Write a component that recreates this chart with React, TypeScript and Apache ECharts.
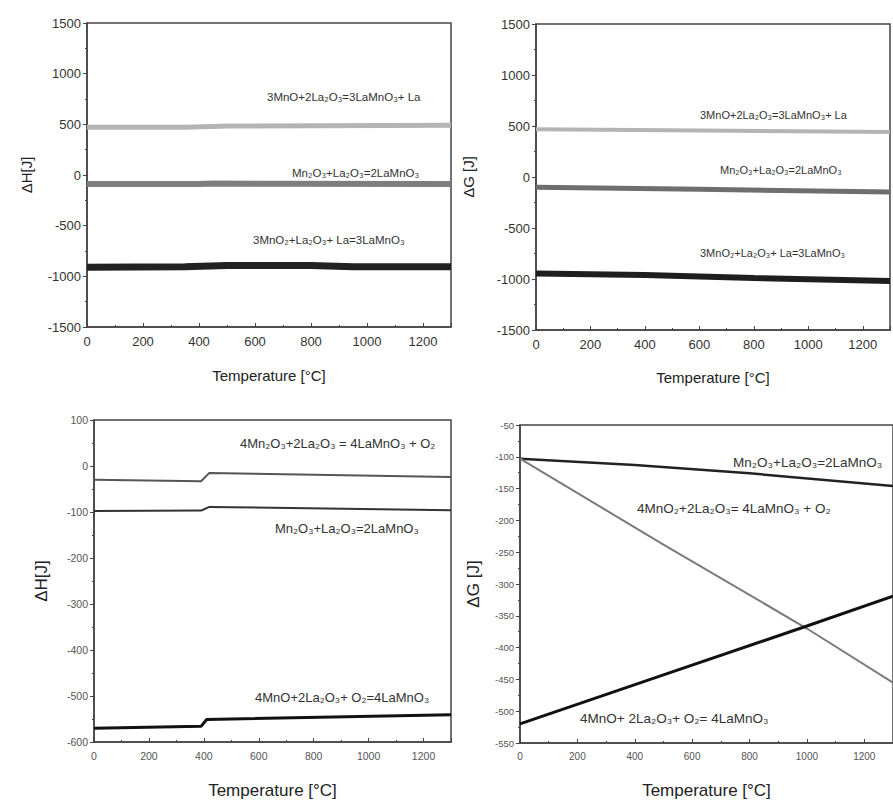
import React, { useEffect, useRef } from "react";
import * as echarts from "echarts";

// ---------- data (Temperature [°C], value [J]) ----------
// Top-left: ΔH
const tlLaMnO3La: number[][] = [[0, 470], [350, 472], [500, 484], [1300, 490]];
const tlMn2O3: number[][] = [[0, -90], [400, -88], [450, -85], [1300, -88]];
const tlMnO2La: number[][] = [[0, -910], [350, -906], [500, -893], [800, -892], [950, -905], [1300, -905]];
// Top-right: ΔG
const trLaMnO3La: number[][] = [[0, 468], [600, 456], [1300, 440]];
const trMn2O3: number[][] = [[0, -100], [600, -120], [1300, -148]];
const trMnO2La: number[][] = [[0, -945], [400, -960], [800, -990], [1300, -1020]];
// Bottom-left: ΔH
const blMnO2O2: number[][] = [[0, -30], [390, -33], [420, -15], [1300, -24]];
const blMn2O3: number[][] = [[0, -98], [390, -97], [420, -89], [1300, -96]];
const blMnOO2: number[][] = [[0, -570], [390, -566], [410, -551], [1300, -541]];
// Bottom-right: ΔG
const brMn2O3: number[][] = [[0, -103], [400, -113], [800, -126], [1300, -146]];
const brMnO2O2: number[][] = [[0, -103], [500, -238], [1000, -370], [1300, -455]];
const brMnOO2: number[][] = [[0, -520], [500, -443], [1000, -366], [1300, -319]];

// axis ranges
const xRange = { min: 0, max: 1300, interval: 200 };
const yTop = { min: -1500, max: 1500, interval: 500 };
const yBL = { min: -600, max: 100, interval: 100 };
const yBR = { min: -550, max: -50, interval: 50 };

// labels
const labTL = ["3MnO+2La₂O₃=3LaMnO₃+ La", "Mn₂O₃+La₂O₃=2LaMnO₃", "3MnO₂+La₂O₃+ La=3LaMnO₃"];
const labTR = ["3MnO+2La₂O₃=3LaMnO₃+ La", "Mn₂O₃+La₂O₃=2LaMnO₃", "3MnO₂+La₂O₃+ La=3LaMnO₃"];
const labBL = ["4Mn₂O₃+2La₂O₃ = 4LaMnO₃ + O₂", "Mn₂O₃+La₂O₃=2LaMnO₃", "4MnO+2La₂O₃+ O₂=4LaMnO₃"];
const labBR = ["Mn₂O₃+La₂O₃=2LaMnO₃", "4MnO₂+2La₂O₃= 4LaMnO₃ + O₂", "4MnO+ 2La₂O₃+ O₂= 4LaMnO₃"];

const FONT = "'Liberation Sans', Arial, Helvetica, sans-serif";
const AX = "#444";
const plain = (v: number) => String(v);

function xAxisCfg(gridIndex: number, fs: number, nameFs: number, nameGap: number, labColor: string) {
  return {
    type: "value",
    gridIndex,
    ...xRange,
    name: "Temperature [°C]",
    nameLocation: "middle",
    nameGap,
    nameTextStyle: { fontFamily: FONT, fontSize: nameFs, color: "#222" },
    axisLine: { show: true, onZero: false, lineStyle: { color: AX, width: 1.5 } },
    axisTick: { show: true, inside: true, length: 4, lineStyle: { color: AX } },
    minorTick: { show: true, splitNumber: 2, length: 2, lineStyle: { color: AX } },
    axisLabel: { fontFamily: FONT, fontSize: fs, color: labColor, margin: 8, showMaxLabel: false, formatter: plain },
    splitLine: { show: false },
  };
}

function yAxisCfg(gridIndex: number, range: any, name: string, fs: number, nameFs: number, nameGap: number, labColor: string) {
  return {
    type: "value",
    gridIndex,
    ...range,
    name,
    nameLocation: "middle",
    nameRotate: 90,
    nameGap,
    nameTextStyle: { fontFamily: FONT, fontSize: nameFs, color: "#222" },
    axisLine: { show: true, onZero: false, lineStyle: { color: AX, width: 1.5 } },
    axisTick: { show: true, inside: false, length: 4, lineStyle: { color: AX } },
    minorTick: { show: true, splitNumber: 2, length: 2, lineStyle: { color: AX } },
    axisLabel: { fontFamily: FONT, fontSize: fs, color: labColor, margin: 6, formatter: plain },
    splitLine: { show: false },
  };
}

function line(data: number[][], idx: number, color: string, width: number) {
  return {
    type: "line",
    xAxisIndex: idx,
    yAxisIndex: idx,
    data,
    showSymbol: false,
    symbol: "none",
    lineStyle: { color, width },
    silent: true,
  };
}

function label(text: string, x: number, y: number, fs: number) {
  return {
    type: "text",
    x,
    y,
    silent: true,
    style: { text, fontFamily: FONT, fontSize: fs, fill: "#333", verticalAlign: "middle", align: "left" },
  };
}

export default function App() {
  const ref = useRef<HTMLDivElement>(null);
  useEffect(() => {
    if (!ref.current) return;
    const chart = echarts.init(ref.current, undefined, { renderer: "svg" });
    const option: any = {
      animation: false,
      backgroundColor: "#ffffff",
      grid: [
        { left: 87, top: 23, width: 364, height: 304, show: true, borderColor: AX, borderWidth: 1.5 },
        { left: 536, top: 24, width: 354, height: 306, show: true, borderColor: AX, borderWidth: 1.5 },
        { left: 94, top: 420, width: 357, height: 322, show: true, borderColor: AX, borderWidth: 1.5 },
        { left: 520, top: 425, width: 382, height: 318, show: true, borderColor: AX, borderWidth: 1.5 },
      ],
      xAxis: [
        xAxisCfg(0, 13, 15, 41, "#333"),
        xAxisCfg(1, 13, 15, 40, "#333"),
        xAxisCfg(2, 10.5, 17, 40, "#555"),
        xAxisCfg(3, 10, 17, 39, "#555"),
      ],
      yAxis: [
        yAxisCfg(0, yTop, "ΔH[J]", 13, 15, 53, "#333"),
        yAxisCfg(1, yTop, "ΔG [J]", 13, 15, 60, "#333"),
        yAxisCfg(2, yBL, "ΔH[J]", 10.5, 17, 44, "#555"),
        yAxisCfg(3, yBR, "ΔG [J]", 9.5, 17, 38, "#555"),
      ],
      series: [
        line(tlLaMnO3La, 0, "#b4b4b4", 5),
        line(tlMn2O3, 0, "#7e7e7e", 6),
        line(tlMnO2La, 0, "#222222", 7),
        line(trLaMnO3La, 1, "#b4b4b4", 4),
        line(trMn2O3, 1, "#6e6e6e", 5),
        line(trMnO2La, 1, "#1e1e1e", 6),
        line(blMnO2O2, 2, "#555555", 2),
        line(blMn2O3, 2, "#333333", 2),
        line(blMnOO2, 2, "#111111", 3),
        line(brMn2O3, 3, "#222222", 2.5),
        line(brMnO2O2, 3, "#7a7a7a", 2),
        line(brMnOO2, 3, "#111111", 3),
      ],
      graphic: [
        label(labTL[0], 267, 97, 11.5),
        label(labTL[1], 292, 173, 11.5),
        label(labTL[2], 253, 240, 11.5),
        label(labTR[0], 700, 115, 11),
        label(labTR[1], 720, 170, 11),
        label(labTR[2], 700, 253, 11),
        label(labBL[0], 240, 443, 13),
        label(labBL[1], 275, 528, 13),
        label(labBL[2], 255, 697, 13),
        label(labBR[0], 733, 462, 13.5),
        label(labBR[1], 637, 508, 13.5),
        label(labBR[2], 580, 718, 13.5),
      ],
    };
    chart.setOption(option);
    return () => chart.dispose();
  }, []);
  return (
    <div
      ref={ref}
      style={{ position: "absolute", left: 0, top: 0, width: 893, height: 804, overflow: "hidden" }}
    />
  );
}
